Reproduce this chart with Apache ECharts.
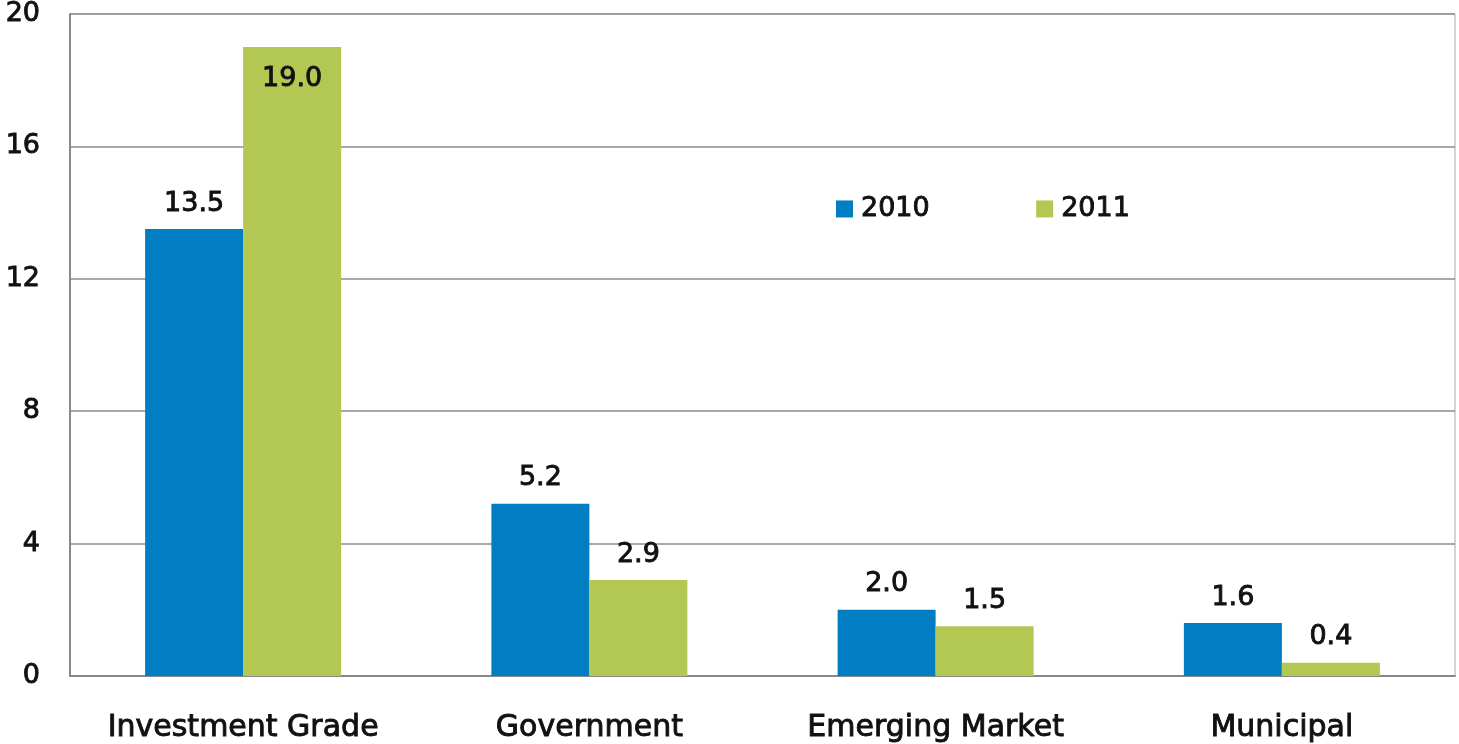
<!DOCTYPE html>
<html>
<head>
<meta charset="utf-8">
<script src="https://cdn.jsdelivr.net/npm/echarts@6/dist/echarts.min.js"></script>
<style>
  html, body { margin: 0; padding: 0; background: #fff; }
  #chart { width: 1459px; height: 744px; }
</style>
</head>
<body>
<div id="chart"></div>
<script>
// data
var categories = ["Investment Grade", "Government", "Emerging Market", "Municipal"];
var values2010 = [13.5, 5.2, 2.0, 1.6];
var values2011 = [19.0, 2.9, 1.5, 0.4];
var seriesNames = ["2010", "2011"];

var fontFamily = "'DejaVu Sans', sans-serif";
var ink = "#111";

var myChart = echarts.init(document.getElementById("chart"));

function labelFor (v) {
  // tall bar gets its label inside the top
  return v >= 18 ? { show: true, position: "insideTop", distance: 18 } : { show: true, position: "top", distance: 12 };
}

function makeData (arr) {
  return arr.map(function (v) {
    return { value: v, label: labelFor(v) };
  });
}

// a thin outline in the text colour makes the strokes a bit heavier, like the original
var valueLabel = {
  color: ink,
  fontSize: 27,
  fontFamily: fontFamily,
  textBorderColor: ink,
  textBorderWidth: 0.9,
  formatter: function (p) { return p.value.toFixed(1); }
};

var option = {
  animation: false,
  textStyle: { fontFamily: fontFamily },
  legend: {
    left: 831,
    top: 190,
    itemWidth: 17,
    itemHeight: 17,
    itemGap: 106,
    icon: "rect",
    data: seriesNames,
    textStyle: { fontSize: 27, color: ink, fontFamily: fontFamily, padding: [0, 0, 0, 3], textBorderColor: ink, textBorderWidth: 0.9 }
  },
  grid: {
    left: 70, right: 4, top: 12, bottom: 68,
    show: true,
    borderColor: "#aaa",
    borderWidth: 1
  },
  xAxis: {
    type: "category",
    data: categories,
    axisLine: { show: true, lineStyle: { color: "#888", width: 2 } },
    axisTick: { show: false },
    axisLabel: { interval: 0, color: ink, fontSize: 30, margin: 37, fontFamily: fontFamily, textBorderColor: ink, textBorderWidth: 0.9 }
  },
  yAxis: {
    type: "value",
    min: 0,
    max: 20,
    interval: 4,
    axisLine: { show: true, lineStyle: { color: "#888", width: 2 } },
    axisTick: { show: false },
    axisLabel: { color: ink, fontSize: 27, margin: 30, fontFamily: fontFamily, textBorderColor: ink, textBorderWidth: 0.9 },
    splitLine: { show: true, lineStyle: { color: "#8c8c8c", width: 1.5 } }
  },
  series: [
    {
      name: seriesNames[0],
      type: "bar",
      barWidth: 98,
      barGap: "0%",
      itemStyle: { color: "#007dc3" },
      label: valueLabel,
      data: makeData(values2010)
    },
    {
      name: seriesNames[1],
      type: "bar",
      barWidth: 98,
      barGap: "0%",
      itemStyle: { color: "#b2c853" },
      label: valueLabel,
      data: makeData(values2011)
    }
  ]
};

myChart.setOption(option);
</script>
</body>
</html>
